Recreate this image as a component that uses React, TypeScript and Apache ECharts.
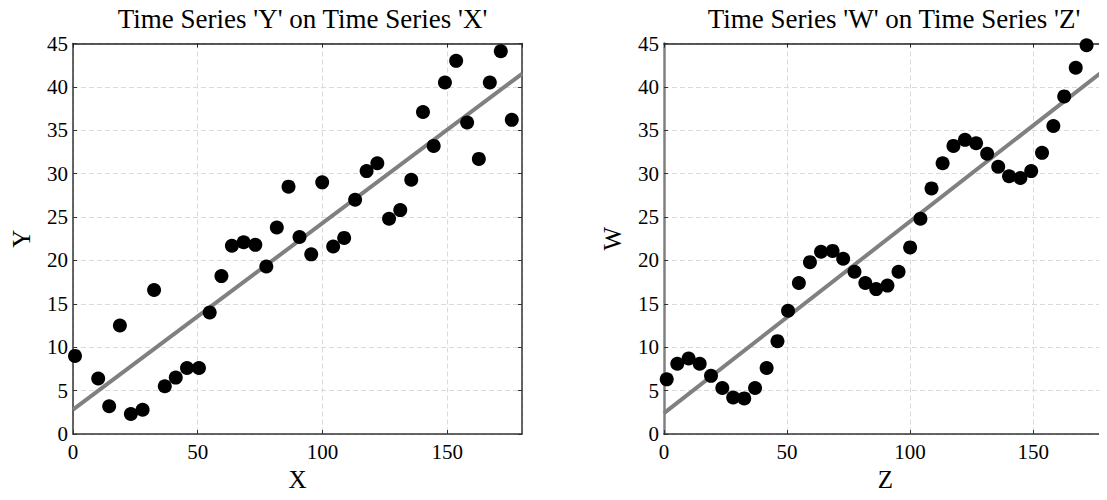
import React, { useEffect, useRef } from "react";
import * as echarts from "echarts";

const titleLeft = "Time Series 'Y' on Time Series 'X'";
const titleRight = "Time Series 'W' on Time Series 'Z'";

const xValues = [0.8, 10.1, 14.5, 18.8, 23.2, 27.9, 32.5, 36.8, 41.2, 45.7, 50.5, 54.8, 59.5, 63.7, 68.4, 73.1, 77.5, 81.7, 86.4, 90.8, 95.5, 99.9, 104.3, 108.7, 113.1, 117.7, 122.0, 126.7, 131.2, 135.6, 140.3, 144.6, 149.1, 153.6, 158.0, 162.7, 167.1, 171.5, 175.9];
const yValues = [9.0, 6.4, 3.2, 12.5, 2.3, 2.8, 16.6, 5.5, 6.5, 7.6, 7.6, 14.0, 18.2, 21.7, 22.1, 21.8, 19.3, 23.8, 28.5, 22.7, 20.7, 29.0, 21.6, 22.6, 27.0, 30.3, 31.2, 24.8, 25.8, 29.3, 37.1, 33.2, 40.5, 43.0, 35.9, 31.7, 40.5, 44.1, 36.2];

const zValues = [1.1, 5.4, 10.0, 14.5, 19.1, 23.7, 28.1, 32.6, 37.0, 41.7, 46.1, 50.4, 54.8, 59.3, 63.8, 68.5, 72.8, 77.4, 81.8, 86.2, 90.8, 95.3, 100.0, 104.2, 108.7, 113.2, 117.6, 122.3, 126.8, 131.3, 135.8, 140.2, 144.8, 149.2, 153.6, 158.2, 162.6, 167.3, 171.7];
const wValues = [6.3, 8.1, 8.7, 8.1, 6.7, 5.3, 4.2, 4.1, 5.3, 7.6, 10.7, 14.2, 17.4, 19.8, 21.0, 21.1, 20.2, 18.7, 17.4, 16.7, 17.1, 18.7, 21.5, 24.8, 28.3, 31.2, 33.2, 33.9, 33.5, 32.3, 30.8, 29.7, 29.5, 30.3, 32.4, 35.5, 38.9, 42.2, 44.8];

// fitted lines: [intercept, slope]
const fitXY = [2.8, 0.215];
const fitZW = [2.4, 0.221];

const xRange = [0, 180];
const yRange = [0, 45];

const FONT = "Liberation Serif";

export default function App() {
  const ref = useRef<HTMLDivElement>(null);
  useEffect(() => {
    if (!ref.current) return;
    const chart = echarts.init(ref.current, undefined, { renderer: "svg" });

    const grids = [
      { left: 73, top: 43.5, width: 449, height: 390.5 },
      { left: 664, top: 43.5, width: 450, height: 390.5 },
    ];

    const mkX = (gi: number, name: string) => [
      {
        type: "value",
        gridIndex: gi,
        position: "bottom",
        min: xRange[0],
        max: xRange[1],
        interval: 50,
        name,
        nameLocation: "middle",
        nameGap: 33,
        nameTextStyle: { fontFamily: FONT, fontSize: 25, color: "#000" },
        axisLine: { show: true, onZero: false, lineStyle: { color: "#333", width: 1.5 } },
        axisTick: { show: true, inside: true, length: 4, lineStyle: { color: "#333" } },
        axisLabel: { fontFamily: FONT, fontSize: 21, color: "#000", margin: 7, showMaxLabel: false },
        splitLine: { show: true, lineStyle: { color: "#dadada", type: [5, 3], width: 1 } },
      },
      {
        type: "value",
        gridIndex: gi,
        position: "top",
        min: xRange[0],
        max: xRange[1],
        interval: 50,
        axisLine: { show: true, onZero: false, lineStyle: { color: "#222", width: 1.5 } },
        axisTick: { show: true, inside: true, length: 4, lineStyle: { color: "#222" } },
        axisLabel: { show: false },
        splitLine: { show: false },
      },
    ];

    const mkY = (gi: number, name: string, leftColor: string, leftWidth: number) => [
      {
        type: "value",
        gridIndex: gi,
        position: "left",
        min: yRange[0],
        max: yRange[1],
        interval: 5,
        name,
        nameLocation: "middle",
        nameGap: 39,
        nameRotate: 90,
        nameTextStyle: { fontFamily: FONT, fontSize: 25, color: "#000" },
        axisLine: { show: true, onZero: false, lineStyle: { color: leftColor, width: leftWidth } },
        axisTick: { show: true, inside: true, length: 4, lineStyle: { color: "#333" } },
        axisLabel: { fontFamily: FONT, fontSize: 21, color: "#000", margin: 5 },
        splitLine: { show: true, lineStyle: { color: "#dadada", type: [5, 3], width: 1 } },
      },
      {
        type: "value",
        gridIndex: gi,
        position: "right",
        min: yRange[0],
        max: yRange[1],
        interval: 5,
        axisLine: { show: true, onZero: false, lineStyle: { color: "#333", width: 1.5 } },
        axisTick: { show: true, inside: true, length: 4, lineStyle: { color: "#333" } },
        axisLabel: { show: false },
        splitLine: { show: false },
      },
    ];

    const fitLine = (fit: number[]) =>
      xRange.map((x) => [x, fit[0] + fit[1] * x]);

    chart.setOption({
      animation: false,
      backgroundColor: "#fff",
      textStyle: { fontFamily: FONT },
      title: [
        {
          text: titleLeft,
          left: 297.5,
          top: 0,
          textAlign: "center",
          textStyle: { fontFamily: FONT, fontSize: 27, fontWeight: "normal", color: "#000" },
        },
        {
          text: titleRight,
          left: 889,
          top: 0,
          textAlign: "center",
          textStyle: { fontFamily: FONT, fontSize: 27, fontWeight: "normal", color: "#000" },
        },
      ],
      grid: grids,
      xAxis: [...mkX(0, "X"), ...mkX(1, "Z")],
      yAxis: [...mkY(0, "Y", "#333", 1.5), ...mkY(1, "W", "#808080", 2.5)],
      series: [
        {
          type: "line",
          xAxisIndex: 0,
          yAxisIndex: 0,
          data: fitLine(fitXY),
          symbol: "none",
          lineStyle: { color: "#808080", width: 4 },
          z: 2,
        },
        {
          type: "scatter",
          xAxisIndex: 0,
          yAxisIndex: 0,
          data: xValues.map((x, i) => [x, yValues[i]]),
          symbolSize: 14,
          itemStyle: { color: "#000", opacity: 1 },
          z: 3,
        },
        {
          type: "line",
          xAxisIndex: 2,
          yAxisIndex: 2,
          data: fitLine(fitZW),
          symbol: "none",
          lineStyle: { color: "#808080", width: 4 },
          z: 2,
        },
        {
          type: "scatter",
          xAxisIndex: 2,
          yAxisIndex: 2,
          data: zValues.map((x, i) => [x, wValues[i]]),
          symbolSize: 14,
          itemStyle: { color: "#000", opacity: 1 },
          z: 3,
        },
      ],
    });
    return () => chart.dispose();
  }, []);
  return <div ref={ref} style={{ width: 1107, height: 500, margin: -8 }} />;
}
